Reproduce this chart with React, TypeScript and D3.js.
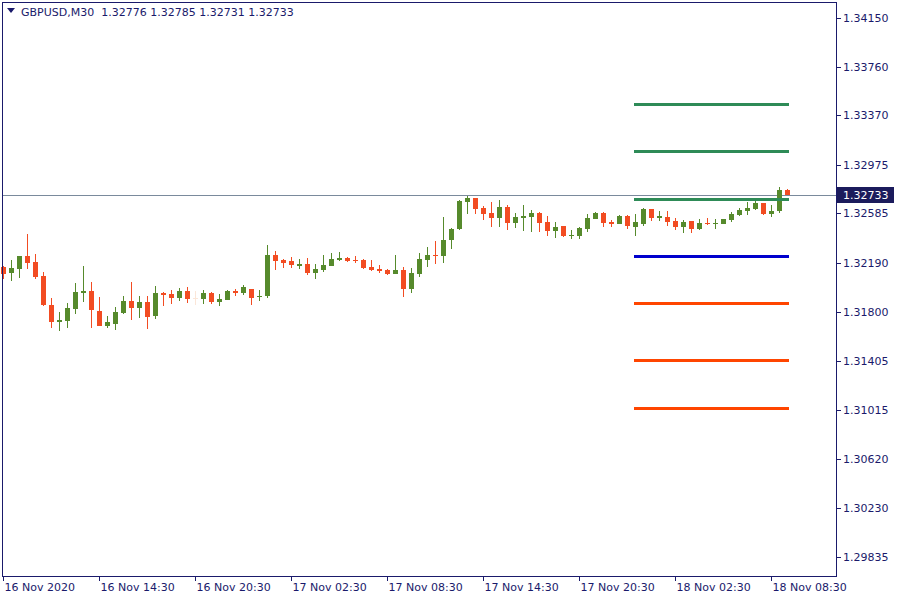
import { useMemo } from 'react';
import * as d3 from 'd3';

// GBPUSD M30 candles, 16 Nov 08:30 .. 18 Nov 09:30 (open, high, low, close)
const opens = [
  1.32160, 1.32112, 1.32144, 1.32246, 1.32198, 1.32086, 1.31854, 1.31716, 1.31728, 1.31824,
  1.31952, 1.31966, 1.31806, 1.31688, 1.31704, 1.31792, 1.31886, 1.31832, 1.31878, 1.31768,
  1.31952, 1.31942, 1.31912, 1.31966, 1.31910, 1.31904, 1.31950, 1.31880, 1.31896, 1.31966,
  1.31952, 1.31982, 1.31920, 1.31928, 1.32254, 1.32214, 1.32206, 1.32166, 1.32182, 1.32110,
  1.32134, 1.32166, 1.32214, 1.32230, 1.32212, 1.32214, 1.32158, 1.32142, 1.32134, 1.32102,
  1.32134, 1.31984, 1.32102, 1.32214, 1.32254, 1.32246, 1.32374, 1.32462, 1.32678, 1.32710,
  1.32630, 1.32590, 1.32550, 1.32638, 1.32510, 1.32550, 1.32558, 1.32590, 1.32518, 1.32446,
  1.32486, 1.32406, 1.32406, 1.32462, 1.32542, 1.32590, 1.32518, 1.32502, 1.32566, 1.32478,
  1.32502, 1.32622, 1.32550, 1.32558, 1.32526, 1.32478, 1.32526, 1.32462, 1.32510, 1.32502,
  1.32502, 1.32534, 1.32574, 1.32606, 1.32622, 1.32670, 1.32582, 1.32606, 1.32776,
];
const highs = [
  1.32168, 1.32214, 1.32248, 1.32422, 1.32262, 1.32118, 1.31910, 1.31798, 1.31870, 1.32030,
  1.32166, 1.32038, 1.31918, 1.31766, 1.31838, 1.31926, 1.32038, 1.31926, 1.31926, 1.32006,
  1.31958, 1.31974, 1.31990, 1.31998, 1.31966, 1.31974, 1.31958, 1.31942, 1.31974, 1.31982,
  1.32014, 1.31984, 1.31974, 1.32334, 1.32286, 1.32222, 1.32238, 1.32222, 1.32230, 1.32182,
  1.32254, 1.32270, 1.32278, 1.32238, 1.32246, 1.32222, 1.32214, 1.32174, 1.32142, 1.32254,
  1.32158, 1.32150, 1.32270, 1.32318, 1.32366, 1.32558, 1.32470, 1.32694, 1.32726, 1.32712,
  1.32646, 1.32678, 1.32694, 1.32654, 1.32590, 1.32654, 1.32614, 1.32598, 1.32566, 1.32518,
  1.32488, 1.32454, 1.32478, 1.32582, 1.32598, 1.32598, 1.32534, 1.32574, 1.32574, 1.32582,
  1.32630, 1.32624, 1.32606, 1.32606, 1.32550, 1.32534, 1.32528, 1.32542, 1.32550, 1.32542,
  1.32544, 1.32598, 1.32630, 1.32678, 1.32702, 1.32672, 1.32654, 1.32798, 1.32785,
];
const lows = [
  1.32064, 1.32048, 1.32072, 1.32140, 1.32064, 1.31848, 1.31672, 1.31648, 1.31672, 1.31784,
  1.31880, 1.31672, 1.31686, 1.31672, 1.31656, 1.31784, 1.31732, 1.31752, 1.31664, 1.31744,
  1.31848, 1.31864, 1.31888, 1.31872, 1.31856, 1.31864, 1.31864, 1.31848, 1.31894, 1.31928,
  1.31936, 1.31856, 1.31888, 1.31912, 1.32134, 1.32150, 1.32150, 1.32142, 1.32094, 1.32062,
  1.32118, 1.32164, 1.32206, 1.32198, 1.32190, 1.32142, 1.32126, 1.32110, 1.32094, 1.32100,
  1.31920, 1.31952, 1.32078, 1.32158, 1.32182, 1.32190, 1.32302, 1.32454, 1.32582, 1.32582,
  1.32534, 1.32478, 1.32478, 1.32454, 1.32470, 1.32446, 1.32438, 1.32438, 1.32406, 1.32390,
  1.32398, 1.32382, 1.32382, 1.32438, 1.32540, 1.32478, 1.32478, 1.32500, 1.32462, 1.32406,
  1.32486, 1.32526, 1.32526, 1.32486, 1.32454, 1.32430, 1.32430, 1.32454, 1.32494, 1.32462,
  1.32500, 1.32518, 1.32566, 1.32574, 1.32614, 1.32574, 1.32558, 1.32590, 1.32731,
];
const closes = [
  1.32104, 1.32150, 1.32246, 1.32192, 1.32080, 1.31854, 1.31720, 1.31734, 1.31830, 1.31958,
  1.31966, 1.31812, 1.31688, 1.31718, 1.31798, 1.31886, 1.31832, 1.31878, 1.31760, 1.31950,
  1.31936, 1.31912, 1.31966, 1.31904, 1.31910, 1.31950, 1.31880, 1.31902, 1.31966, 1.31952,
  1.31998, 1.31912, 1.31928, 1.32254, 1.32206, 1.32190, 1.32174, 1.32182, 1.32110, 1.32142,
  1.32174, 1.32222, 1.32230, 1.32206, 1.32204, 1.32150, 1.32134, 1.32126, 1.32102, 1.32134,
  1.31984, 1.32110, 1.32222, 1.32254, 1.32246, 1.32374, 1.32462, 1.32686, 1.32710, 1.32622,
  1.32582, 1.32550, 1.32638, 1.32510, 1.32558, 1.32566, 1.32590, 1.32510, 1.32446, 1.32478,
  1.32406, 1.32414, 1.32470, 1.32550, 1.32590, 1.32510, 1.32502, 1.32566, 1.32486, 1.32518,
  1.32622, 1.32550, 1.32566, 1.32518, 1.32478, 1.32518, 1.32462, 1.32510, 1.32502, 1.32510,
  1.32542, 1.32582, 1.32614, 1.32630, 1.32670, 1.32582, 1.32606, 1.32774, 1.32733,
];

const priceTicks = [
  1.34150, 1.33760, 1.33370, 1.32975, 1.32585, 1.32190,
  1.31800, 1.31405, 1.31015, 1.30620, 1.30230, 1.29835,
];
const timeTickIdx = [0, 12, 24, 36, 48, 60, 72, 84, 96];
const timeTickLabels = [
  '16 Nov 2020', '16 Nov 14:30', '16 Nov 20:30', '17 Nov 02:30', '17 Nov 08:30',
  '17 Nov 14:30', '17 Nov 20:30', '18 Nov 02:30', '18 Nov 08:30',
];

// pivot levels (R3, R2, R1, PP, S1, S2, S3)
const pivotLevels = [1.33462, 1.33085, 1.32701, 1.32245, 1.31868, 1.31412, 1.31028];
const pivotColors = ['#2e8b57', '#2e8b57', '#2e8b57', '#0000cd', '#ff4500', '#ff4500', '#ff4500'];
const pivotFromBar = 79;

const lastPrice = 1.32733;
const header = 'GBPUSD,M30  1.32776 1.32785 1.32731 1.32733';

const BULL = '#568a2c';
const BEAR = '#f24c22';
const NAVY = '#1a1a6b';
const FONT = 'Tahoma, "DejaVu Sans", sans-serif';

export default function App() {
  const W = 900;
  const H = 600;
  const frame = { left: 2, right: 836, top: 2, bottom: 576 };

  const x = useMemo(() => d3.scaleLinear().domain([0, 1]).range([3, 11]), []);
  const y = useMemo(
    () => d3.scaleLinear().domain([1.29835, 1.34150]).range([557, 18]),
    []
  );

  const candles = opens.map((o, i) => ({ o, h: highs[i], l: lows[i], c: closes[i] }));

  return (
    <div style={{ position: 'fixed', left: 0, top: 0, width: W, height: H, background: '#fff' }}>
      <svg width={W} height={H} style={{ display: 'block' }} fontFamily={FONT}>
        <rect x={0} y={0} width={W} height={H} fill="#fff" />

        {/* current price line */}
        <line
          x1={frame.left}
          x2={frame.right}
          y1={Math.round(y(lastPrice)) + 0.5}
          y2={Math.round(y(lastPrice)) + 0.5}
          stroke="#7a8a9c"
          strokeWidth={1}
        />

        {/* candles */}
        <g shapeRendering="crispEdges">
          {candles.map((d, i) => {
            const cx = Math.round(x(i));
            const up = d.c > d.o;
            const doji = d.c === d.o;
            const col = doji ? '#fbe6d8' : up ? BULL : BEAR;
            const top = Math.round(y(Math.max(d.o, d.c)));
            const bot = Math.round(y(Math.min(d.o, d.c)));
            return (
              <g key={i}>
                <rect
                  x={cx}
                  y={Math.round(y(d.h))}
                  width={1}
                  height={Math.max(1, Math.round(y(d.l)) - Math.round(y(d.h)))}
                  fill={col}
                />
                <rect x={cx - 2} y={top} width={5} height={Math.max(1, bot - top)} fill={col} />
              </g>
            );
          })}
        </g>

        {/* pivot levels */}
        <g shapeRendering="crispEdges">
          {pivotLevels.map((p, i) => (
            <rect
              key={i}
              x={Math.round(x(pivotFromBar)) - 1}
              y={Math.round(y(p)) - 1}
              width={Math.round(x(opens.length - 1)) + 3 - Math.round(x(pivotFromBar))}
              height={3}
              fill={pivotColors[i]}
            />
          ))}
        </g>

        {/* frame */}
        <rect
          x={frame.left + 0.5}
          y={frame.top + 0.5}
          width={frame.right - frame.left}
          height={frame.bottom - frame.top}
          fill="none"
          stroke={NAVY}
          strokeWidth={1}
        />

        {/* price axis */}
        {priceTicks.map((p) => {
          const py = Math.round(y(p)) + 0.5;
          return (
            <g key={p}>
              <line x1={frame.right + 1} x2={frame.right + 5} y1={py} y2={py} stroke={NAVY} />
              <text x={843} y={py} dy="0.35em" fontSize={11} fill={NAVY}>
                {p.toFixed(5)}
              </text>
            </g>
          );
        })}

        {/* last price label */}
        <rect x={frame.right + 1} y={Math.round(y(lastPrice)) - 8} width={57} height={16} fill="#1b1b5c" />
        <text x={843} y={Math.round(y(lastPrice))} dy="0.35em" fontSize={11} fill="#fff">
          {lastPrice.toFixed(5)}
        </text>

        {/* time axis */}
        {timeTickIdx.map((t, i) => {
          const tx = Math.round(x(t)) + 0.5;
          return (
            <g key={t}>
              <line x1={tx} x2={tx} y1={frame.bottom + 1} y2={frame.bottom + 5} stroke={NAVY} />
              <text x={tx + 1} y={591} fontSize={11} fill={NAVY}>
                {timeTickLabels[i]}
              </text>
            </g>
          );
        })}

        {/* header */}
        <path d="M7,8 L15,8 L11,13 Z" fill={NAVY} />
        <text x={21} y={16} fontSize={11} fill={NAVY} style={{ whiteSpace: 'pre' }}>
          {header}
        </text>
      </svg>
    </div>
  );
}
